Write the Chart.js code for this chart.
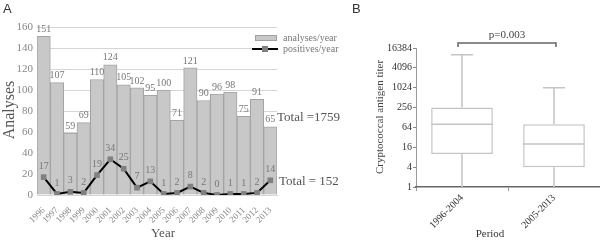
<!DOCTYPE html>
<html>
<head>
<meta charset="utf-8">
<script src="https://cdn.jsdelivr.net/npm/chart.js@4.4.1/dist/chart.umd.min.js"></script>
<style>
  body { margin: 0; background: #fff; }
  #wrap { position: relative; width: 600px; height: 240px; }
  canvas { position: absolute; top: 0; }
</style>
</head>
<body>
<div id="wrap">
  <canvas id="chartA" width="350" height="240" style="left:0"></canvas>
  <canvas id="chartB" width="250" height="240" style="left:350px"></canvas>
</div>
<script>
var years = ["1996", "1997", "1998", "1999", "2000", "2001", "2002", "2003", "2004",
  "2005", "2006", "2007", "2008", "2009", "2010", "2011", "2012", "2013"];
var analyses = [151, 107, 59, 69, 110, 124, 105, 102, 95, 100, 71, 121, 90, 96, 98, 75, 91, 65];
var positives = [17, 1, 3, 2, 19, 34, 25, 7, 13, 1, 2, 8, 2, 0, 1, 1, 2, 14];
var yTicksA = [0, 20, 40, 60, 80, 100, 120, 140, 160];
// totals as printed on the figure
var totalAnalyses = "Total =1759";
var totalPositives = "Total = 152";

var periods = ["1996-2004", "2005-2013"];
var boxMin = [1, 1];
var boxQ1 = [10, 4];
var boxMedian = [80, 20];
var boxQ3 = [256, 80];
var boxMax = [10240, 1024];
var titerTicks = [1, 4, 16, 64, 256, 1024, 4096, 16384];

var serif = "'Liberation Serif', 'DejaVu Serif', serif";
var sans = "'Liberation Sans', Arial, sans-serif";

// labels, legend and totals for panel A
var panelA = {
  id: "panelA",
  afterDatasetsDraw: function (chart) {
    var c = chart.ctx;
    c.save();
    c.font = "10px " + serif;
    c.fillStyle = "#777";
    c.textAlign = "center";
    c.textBaseline = "bottom";
    chart.getDatasetMeta(1).data.forEach(function (el, i) {
      c.fillText(String(analyses[i]), el.x, el.y - 2);
    });
    chart.getDatasetMeta(0).data.forEach(function (el, i) {
      c.fillText(String(positives[i]), el.x, el.y - 6);
    });

    // legend
    c.fillStyle = "#c8c8c8";
    c.strokeStyle = "#a0a0a0";
    c.lineWidth = 1;
    c.fillRect(255.5, 35.5, 21, 5);
    c.strokeRect(255.5, 35.5, 21, 5);
    c.strokeStyle = "#000";
    c.lineWidth = 2;
    c.beginPath();
    c.moveTo(252, 49);
    c.lineTo(278, 49);
    c.stroke();
    c.fillStyle = "#808080";
    c.fillRect(262, 46, 6, 6);
    c.font = "10px " + serif;
    c.fillStyle = "#777";
    c.textAlign = "left";
    c.textBaseline = "middle";
    c.fillText("analyses/year", 283, 38);
    c.fillText("positives/year", 283, 49);

    // totals
    c.font = "13px " + serif;
    c.fillStyle = "#555";
    c.fillText(totalAnalyses, 277, 118);
    c.fillText(totalPositives, 279, 182);

    // titles
    c.font = "13px " + sans;
    c.fillStyle = "#333";
    c.fillText("A", 3, 9);
    c.font = "13px " + serif;
    c.fillStyle = "#555";
    c.textAlign = "center";
    c.fillText("Year", 163, 234);
    c.translate(10, 110);
    c.rotate(-Math.PI / 2);
    c.font = "16px " + serif;
    c.fillText("Analyses", 0, 0);
    c.restore();
  }
};

new Chart(document.getElementById("chartA").getContext("2d"), {
  type: "bar",
  data: {
    labels: years,
    datasets: [
      {
        type: "line",
        label: "positives/year",
        data: positives,
        borderColor: "#000",
        borderWidth: 2,
        pointStyle: "rect",
        pointRadius: 4,
        pointBackgroundColor: "#808080",
        pointBorderWidth: 0,
        order: 0,
      },
      {
        label: "analyses/year",
        data: analyses,
        backgroundColor: "#c8c8c8",
        borderColor: "#a3a3a3",
        borderWidth: 1,
        categoryPercentage: 1,
        barPercentage: 1,
        order: 1,
      },
    ],
  },
  options: {
    responsive: false,
    animation: false,
    devicePixelRatio: 1,
    layout: { padding: { top: 27, right: 73, left: 0, bottom: 0 } },
    plugins: { legend: { display: false }, tooltip: { enabled: false } },
    scales: {
      y: {
        min: 0,
        max: 160,
        afterBuildTicks: function (s) {
          s.ticks = yTicksA.map(function (v) { return { value: v }; });
        },
        afterFit: function (s) { s.width = 37; },
        ticks: { font: { family: serif, size: 11 }, color: "#888", padding: 4 },
        grid: { color: "#d6d6d6", drawTicks: false },
        border: { display: false },
      },
      x: {
        afterFit: function (s) { s.height = 45; },
        ticks: {
          minRotation: 45,
          maxRotation: 45,
          autoSkip: false,
          font: { family: serif, size: 9 },
          color: "#888",
          padding: 2,
        },
        grid: { display: false },
        border: { color: "#d6d6d6" },
      },
    },
  },
  plugins: [panelA],
});

// whiskers, medians, bracket and titles for panel B
var panelB = {
  id: "panelB",
  afterDatasetsDraw: function (chart) {
    var c = chart.ctx;
    var y = chart.scales.y;
    var els = chart.getDatasetMeta(0).data;
    c.save();
    c.strokeStyle = "#c4c4c4";
    c.lineWidth = 1.5;
    els.forEach(function (el, i) {
      var hw = el.width / 2;
      c.beginPath();
      c.moveTo(el.x - hw, y.getPixelForValue(boxMedian[i]));
      c.lineTo(el.x + hw, y.getPixelForValue(boxMedian[i]));
      c.moveTo(el.x, y.getPixelForValue(boxQ3[i]));
      c.lineTo(el.x, y.getPixelForValue(boxMax[i]));
      c.moveTo(el.x - 11, y.getPixelForValue(boxMax[i]));
      c.lineTo(el.x + 11, y.getPixelForValue(boxMax[i]));
      c.moveTo(el.x, y.getPixelForValue(boxQ1[i]));
      c.lineTo(el.x, y.getPixelForValue(boxMin[i]));
      c.stroke();
    });

    // significance bracket
    var x1 = els[0].x - 4, x2 = els[1].x + 2;
    c.strokeStyle = "#666";
    c.lineWidth = 1.5;
    c.beginPath();
    c.moveTo(x1, 47);
    c.lineTo(x1, 43);
    c.lineTo(x2, 43);
    c.lineTo(x2, 47);
    c.stroke();
    c.font = "11px " + serif;
    c.fillStyle = "#444";
    c.textAlign = "center";
    c.textBaseline = "bottom";
    c.fillText("p=0.003", (x1 + x2) / 2, 41);

    c.textBaseline = "middle";
    c.font = "11px " + serif;
    c.fillStyle = "#333";
    c.fillText("Period", 140, 234);
    c.textAlign = "left";
    c.font = "13px " + sans;
    c.fillText("B", 2, 9);
    c.translate(30, 117);
    c.rotate(-Math.PI / 2);
    c.textAlign = "center";
    c.font = "11px " + serif;
    c.fillStyle = "#444";
    c.fillText("Cryptococcal antigen titer", 0, 0);
    c.restore();
  }
};

new Chart(document.getElementById("chartB").getContext("2d"), {
  type: "bar",
  data: {
    labels: periods,
    datasets: [
      {
        data: periods.map(function (p, i) { return [boxQ1[i], boxQ3[i]]; }),
        backgroundColor: "#fff",
        borderColor: "#c4c4c4",
        borderWidth: 1.5,
        borderSkipped: false,
        categoryPercentage: 1,
        barPercentage: 0.67,
      },
    ],
  },
  options: {
    responsive: false,
    animation: false,
    devicePixelRatio: 1,
    layout: { padding: { top: 48, right: 0, left: 0, bottom: 0 } },
    plugins: { legend: { display: false }, tooltip: { enabled: false } },
    scales: {
      y: {
        type: "logarithmic",
        min: 1,
        max: 16384,
        afterBuildTicks: function (s) {
          s.ticks = titerTicks.map(function (v) { return { value: v }; });
        },
        afterFit: function (s) { s.width = 66; },
        ticks: {
          autoSkip: false,
          callback: function (v) { return String(v); },
          font: { family: serif, size: 10 },
          color: "#333",
          padding: 1,
        },
        grid: { drawOnChartArea: false, tickLength: 3, color: "#888" },
        border: { color: "#999", width: 1 },
      },
      x: {
        afterFit: function (s) { s.height = 53; },
        ticks: {
          minRotation: 45,
          maxRotation: 45,
          font: { family: serif, size: 10 },
          color: "#333",
          padding: 1,
        },
        grid: { drawOnChartArea: false, tickLength: 4, color: "#999" },
        border: { color: "#666", width: 1.5 },
      },
    },
  },
  plugins: [panelB],
});
</script>
</body>
</html>
